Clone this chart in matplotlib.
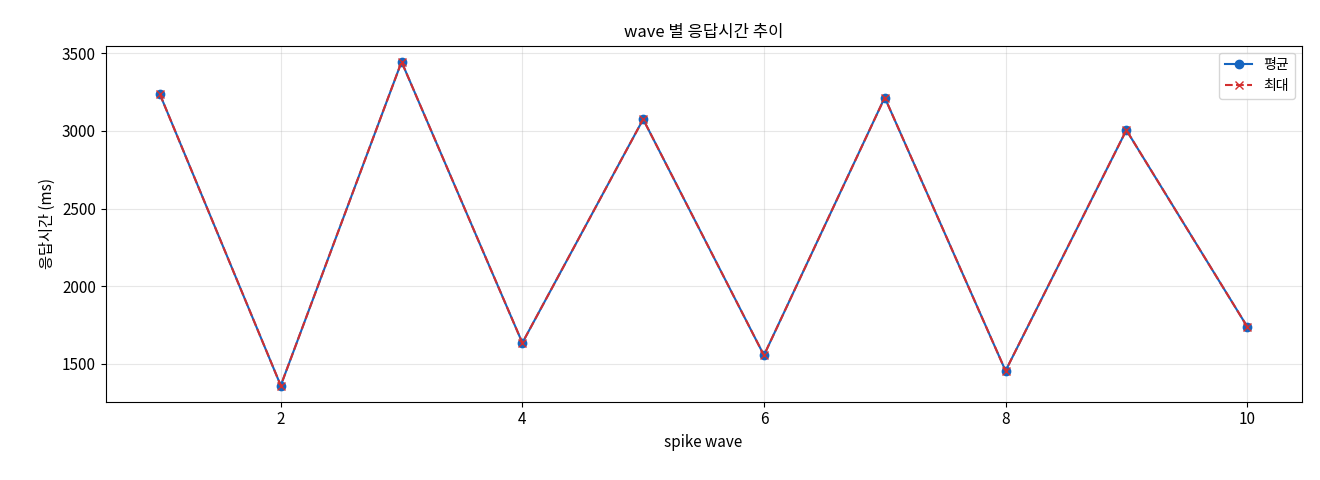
import matplotlib
matplotlib.use('Agg')
import matplotlib.pyplot as plt

plt.rcParams['font.family'] = ['Noto Sans CJK KR', 'DejaVu Sans']

waves = [1, 2, 3, 4, 5, 6, 7, 8, 9, 10]
avg_ms = [3235, 1360, 3445, 1635, 3075, 1555, 3215, 1455, 3005, 1740]
max_ms = [3235, 1360, 3445, 1635, 3075, 1555, 3215, 1455, 3005, 1740]

fig, ax = plt.subplots(figsize=(13.2, 4.8), dpi=100)
ax.plot(waves, avg_ms, marker='o', color='#1565C0', label='평균', markersize=6)
ax.plot(waves, max_ms, marker='x', linestyle='--', color='#D32F2F', label='최대', markersize=6)

ax.set_title('wave 별 응답시간 추이', fontsize=12)
ax.set_xlabel('spike wave', fontsize=11)
ax.set_ylabel('응답시간 (ms)', fontsize=11)
ax.grid(True, alpha=0.3)
ax.legend(loc='upper right', fontsize=10)
ax.tick_params(labelsize=11)

plt.subplots_adjust(left=0.08, right=0.986, top=0.905, bottom=0.163)
plt.savefig('out.png', dpi=100)
